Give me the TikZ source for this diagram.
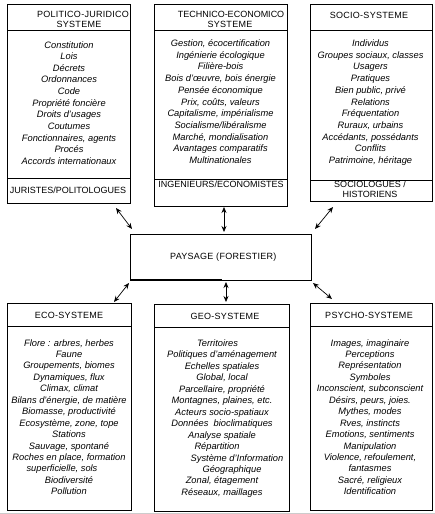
\documentclass[tikz,border=0pt]{standalone}
\usepackage{fontspec}
\setmainfont{Liberation Sans}
\usetikzlibrary{arrows.meta}
\begin{document}
\begin{tikzpicture}[x=1pt,y=-1pt,
  box/.style={draw, line width=0.8pt, inner sep=0pt, outer sep=0pt, anchor=north west},
  sep/.style={line width=0.8pt},
  hd/.style={font=\fontsize{9}{10}\selectfont\addfontfeature{LetterSpace=3}, anchor=base, inner sep=0pt},
  ft/.style={font=\fontsize{9}{10}\selectfont, anchor=base, inner sep=0pt},
  bl/.style={font=\fontsize{9.3}{10}\selectfont\itshape, anchor=base, inner sep=0pt},
  arr/.style={{Stealth[length=6pt,width=5pt]}-{Stealth[length=6pt,width=5pt]}, line width=0.7pt}]
\useasboundingbox (0,0) rectangle (435,514);
\draw[gray!40, line width=0.8pt] (0,513) -- (435,513);

% boxes
\node[box, minimum width=123pt, minimum height=199pt] (pj) at (7.5,4) {};
\node[box, minimum width=133pt, minimum height=202pt] (te) at (154,4) {};
\node[box, minimum width=122pt, minimum height=197pt] (ss) at (310,4) {};
\node[box, minimum width=123.5pt, minimum height=206.7pt] (eco) at (7.5,303.3) {};
\node[box, minimum width=135pt, minimum height=207.7pt] (geo) at (154,304) {};
\node[box, minimum width=122pt, minimum height=206.7pt] (psy) at (310,303.3) {};
\node[box, minimum width=181pt, minimum height=46pt] (pay) at (130,234) {};
\draw[line width=1.6pt] (pay.south west) -- (pay.south west -| 222,0);

% separators
\draw[sep] (pj.west |- 0,30) -- (pj.east |- 0,30);
\draw[sep] (pj.west |- 0,178.7) -- (pj.east |- 0,178.7);
\draw[sep] (te.west |- 0,30.5) -- (te.east |- 0,30.5);
\draw[sep] (te.west |- 0,179) -- (te.east |- 0,179);
\draw[sep] (ss.west |- 0,30) -- (ss.east |- 0,30);
\draw[sep] (ss.west |- 0,180) -- (ss.east |- 0,180);
\draw[sep] (eco.west |- 0,326.7) -- (eco.east |- 0,326.7);
\draw[sep] (geo.west |- 0,327.3) -- (geo.east |- 0,327.3);
\draw[sep] (psy.west |- 0,326.7) -- (psy.east |- 0,326.7);

% headers and footers
\node[hd] (pjh1) at (83,17.7) {POLITICO-JURIDICO};
\node[hd] (pjh2) at (79,27.3) {SYSTEME};
\node[ft] (teh1) at (231,17.3) {TECHNICO-ECONOMICO};
\node[hd] (teh2) at (230,27.3) {SYSTEME};
\node[hd] (ssh) at (369,19) {SOCIO-SYSTEME};
\node[ft] (pjf) at (68,193) {JURISTES/POLITOLOGUES};
\node[ft] (tef) at (221,187.3) {INGENIEURS/ECONOMISTES};
\node[ft] (ssf1) at (370,187.3) {SOCIOLOGUES /};
\node[ft] (ssf2) at (370,197.3) {HISTORIENS};
\node[hd] (ecoh) at (69,318.3) {ECO-SYSTEME};
\node[hd] (geoh) at (225,319) {GEO-SYSTEME};
\node[hd] (psyh) at (369,318.3) {PSYCHO-SYSTEME};
\node[hd] (payt) at (223.3,259.5) {PAYSAGE (FORESTIER)};

% body texts
\foreach \t [count=\i] in {Constitution, Lois, Décrets, Ordonnances, Code, Propriété foncière, Droits d'usages, Coutumes, {Fonctionnaires, agents}, Procés, Accords internationaux}
  \node[bl] (pjb\i) at (69,{48+11.65*(\i-1)}) {\t};
\foreach \t [count=\i] in {{Gestion, écocertification}, Ingénierie écologique, Filière-bois, {Bois d'œuvre, bois énergie}, Pensée économique, {Prix, coûts, valeurs}, {Capitalisme, impérialisme}, Socialisme/libéralisme, {Marché, mondialisation}, Avantages comparatifs, Multinationales}
  \node[bl] (teb\i) at (220.5,{46.5+11.7*(\i-1)}) {\t};
\foreach \t [count=\i] in {Individus, {Groupes sociaux, classes}, Usagers, Pratiques, {Bien public, privé}, Relations, Fréquentation, {Ruraux, urbains}, {Accédants, possédants}, Conflits, {Patrimoine, héritage}}
  \node[bl] (ssb\i) at (370.5,{46.5+11.7*(\i-1)}) {\t};
\foreach \t [count=\i] in {{Flore : arbres, herbes}, Faune, {Groupements, biomes}, {Dynamiques, flux}, {Climax, climat}, {Bilans d'énergie, de matière}, {Biomasse, productivité}, {Ecosystème, zone, tope}, Stations, {Sauvage, spontané}, {Roches en place, formation}, {superficielle, sols\hspace*{14pt}}, Biodiversité, Pollution}
  \node[bl] (ecob\i) at (69,{346+11.45*(\i-1)}) {\t};
\foreach \t [count=\i] in {Territoires\hspace*{9pt}, Politiques d'aménagement, Echelles spatiales, {Global, local}, {Parcellaire, propriété}, {Montagnes, plaines, etc.}, Acteurs socio-spatiaux, Données~~bioclimatiques, Analyse spatiale, Répartition\hspace*{10pt}, \hspace*{30pt}Système d'Information, \hspace*{20pt}Géographique, {Zonal, étagement}, {Réseaux, maillages}}
  \node[bl] (geob\i) at (222,{346.5+11.45*(\i-1)}) {\t};
\foreach \t [count=\i] in {{Images, imaginaire}, Perceptions, Représentation, Symboles, {Inconscient, subconscient}, {Désirs, peurs, joies.}, {Mythes, modes}, {Rves, instincts}, {Emotions, sentiments}, Manipulation, {Violence, refoulement,}, fantasmes, {Sacré, religieux}, Identification}
  \node[bl] (psyb\i) at (370,{346+11.45*(\i-1)}) {\t};

% connectors
\coordinate (a1s) at (116,208); \coordinate (a1e) at (132,229);
\coordinate (a2s) at (224,207); \coordinate (a2e) at (224,232);
\coordinate (a3s) at (333,207); \coordinate (a3e) at (315,229);
\coordinate (a4s) at (129,283); \coordinate (a4e) at (114,302);
\coordinate (a5s) at (226,282); \coordinate (a5e) at (226,302);
\coordinate (a6s) at (313,283); \coordinate (a6e) at (332,299);
\draw[arr] (a1s) -- (a1e);
\draw[arr] (a2s) -- (a2e);
\draw[arr] (a3s) -- (a3e);
\draw[arr] (a4s) -- (a4e);
\draw[arr] (a5s) -- (a5e);
\draw[arr] (a6s) -- (a6e);
\end{tikzpicture}
\end{document}
